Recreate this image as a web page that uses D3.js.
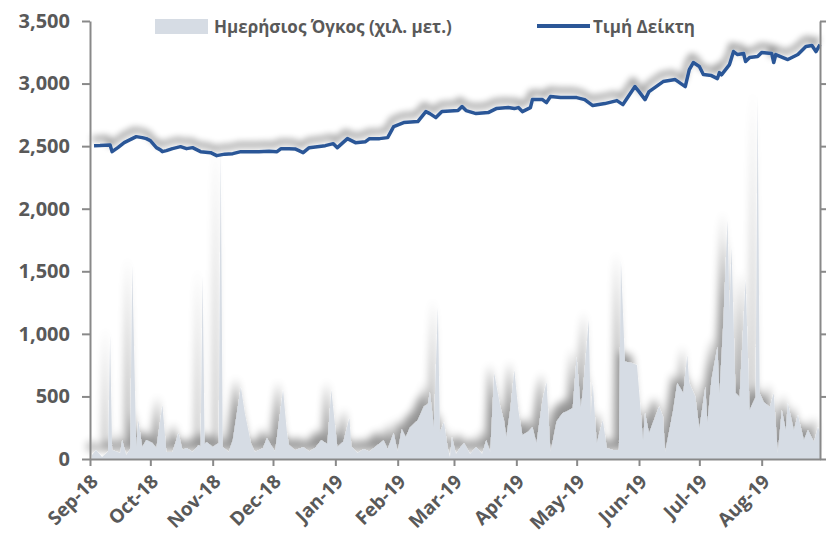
<!DOCTYPE html>
<html>
<head>
<meta charset="utf-8">
<script src="https://cdn.jsdelivr.net/npm/d3@7"></script>
<style>
  body { margin: 0; background: #fff; }
  svg text { font-family: "Open Sans", "Noto Sans", sans-serif; font-weight: bold; fill: #595959; }
  .axis path, .axis line { stroke: #898989; stroke-width: 2; }
</style>
</head>
<body>
<svg id="chart" width="827" height="539"></svg>
<script>
// Daily volume (thousand shares)
const volDates = [
  "2018-09-02","2018-09-04","2018-09-07","2018-09-10","2018-09-11","2018-09-12","2018-09-16","2018-09-17","2018-09-19","2018-09-21",
  "2018-09-22","2018-09-24","2018-09-25","2018-09-27","2018-09-29","2018-10-02","2018-10-04","2018-10-07","2018-10-09","2018-10-12",
  "2018-10-15","2018-10-17","2018-10-19","2018-10-22","2018-10-25","2018-10-26","2018-10-27","2018-10-28","2018-10-29","2018-11-01",
  "2018-11-04","2018-11-05","2018-11-06","2018-11-09","2018-11-11","2018-11-15","2018-11-17","2018-11-20","2018-11-22","2018-11-26",
  "2018-11-28","2018-11-30","2018-12-02","2018-12-06","2018-12-08","2018-12-09","2018-12-12","2018-12-16","2018-12-19","2018-12-22",
  "2018-12-25","2018-12-28","2018-12-30","2019-01-02","2019-01-05","2019-01-08","2019-01-09","2019-01-12","2019-01-15","2019-01-18",
  "2019-01-21","2019-01-25","2019-01-27","2019-01-30","2019-02-01","2019-02-03","2019-02-05","2019-02-07","2019-02-11","2019-02-14",
  "2019-02-16","2019-02-17","2019-02-19","2019-02-21","2019-02-22","2019-02-24","2019-02-26","2019-02-27","2019-02-28","2019-03-02",
  "2019-03-04","2019-03-06","2019-03-09","2019-03-12","2019-03-15","2019-03-17","2019-03-19","2019-03-21","2019-03-24","2019-03-26",
  "2019-03-27","2019-03-29","2019-03-31","2019-04-02","2019-04-04","2019-04-07","2019-04-09","2019-04-11","2019-04-14","2019-04-16",
  "2019-04-18","2019-04-21","2019-04-24","2019-04-26","2019-04-29","2019-05-01","2019-05-03","2019-05-04","2019-05-07","2019-05-08",
  "2019-05-09","2019-05-11","2019-05-14","2019-05-16","2019-05-19","2019-05-22","2019-05-23","2019-05-25","2019-05-28","2019-05-31",
  "2019-06-03","2019-06-04","2019-06-06","2019-06-09","2019-06-11","2019-06-13","2019-06-14","2019-06-18","2019-06-20","2019-06-23",
  "2019-06-25","2019-06-26","2019-06-29","2019-07-01","2019-07-04","2019-07-05","2019-07-07","2019-07-10","2019-07-11","2019-07-13",
  "2019-07-15","2019-07-16","2019-07-17","2019-07-19","2019-07-21","2019-07-24","2019-07-26","2019-07-29","2019-07-30","2019-07-31",
  "2019-08-02","2019-08-05","2019-08-07","2019-08-09","2019-08-11","2019-08-13","2019-08-14","2019-08-17","2019-08-19","2019-08-22",
  "2019-08-24","2019-08-27","2019-08-29","2019-08-30"
];
const volValues = [
  32, 72, 16, 60, 992, 72, 48, 152, 32, 80,
  1552, 96, 312, 96, 152, 128, 88, 432, 56, 56,
  208, 72, 88, 56, 112, 100, 1472, 120, 136, 96,
  128, 2500, 96, 56, 152, 576, 368, 128, 56, 88,
  168, 112, 60, 552, 200, 112, 70, 96, 60, 90,
  152, 120, 552, 96, 140, 328, 100, 48, 80, 60,
  100, 150, 80, 208, 60, 240, 176, 250, 312, 420,
  440, 536, 256, 1216, 216, 296, 80, 16, 176, 40,
  90, 128, 40, 96, 40, 152, 56, 688, 420, 300,
  176, 400, 712, 392, 192, 220, 256, 128, 472, 616,
  56, 300, 368, 380, 408, 816, 416, 528, 1112, 336,
  608, 128, 312, 88, 72, 72, 1592, 780, 770, 752,
  152, 368, 208, 336, 420, 336, 56, 392, 608, 528,
  832, 608, 500, 248, 576, 296, 632, 896, 528, 1112,
  1912, 1168, 1696, 528, 496, 1432, 392, 496, 2912, 528,
  456, 416, 528, 48, 392, 232, 448, 232, 352, 152,
  232, 136, 256, 208
];

// Index level
const idxDates = [
  "2018-09-03","2018-09-06","2018-09-11","2018-09-12","2018-09-15","2018-09-18","2018-09-22","2018-09-24","2018-09-27","2018-09-29",
  "2018-10-01","2018-10-04","2018-10-06","2018-10-07","2018-10-09","2018-10-12","2018-10-16","2018-10-19","2018-10-22","2018-10-26",
  "2018-10-31","2018-11-03","2018-11-07","2018-11-11","2018-11-15","2018-11-20","2018-11-24","2018-11-29","2018-12-03","2018-12-05",
  "2018-12-09","2018-12-12","2018-12-16","2018-12-19","2018-12-23","2018-12-27","2018-12-31","2019-01-02","2019-01-07","2019-01-11",
  "2019-01-16","2019-01-18","2019-01-23","2019-01-27","2019-01-30","2019-02-04","2019-02-11","2019-02-15","2019-02-17","2019-02-20",
  "2019-02-23","2019-03-03","2019-03-05","2019-03-07","2019-03-12","2019-03-18","2019-03-22","2019-03-28","2019-03-31","2019-04-02",
  "2019-04-04","2019-04-08","2019-04-09","2019-04-14","2019-04-16","2019-04-18","2019-04-23","2019-05-01","2019-05-05","2019-05-09",
  "2019-05-15","2019-05-21","2019-05-24","2019-05-28","2019-05-30","2019-06-01","2019-06-04","2019-06-06","2019-06-13","2019-06-19",
  "2019-06-24","2019-06-26","2019-06-28","2019-07-01","2019-07-03","2019-07-07","2019-07-10","2019-07-11","2019-07-12","2019-07-16",
  "2019-07-18","2019-07-20","2019-07-23","2019-07-24","2019-07-26","2019-07-30","2019-08-01","2019-08-06","2019-08-07","2019-08-08",
  "2019-08-14","2019-08-19","2019-08-23","2019-08-26","2019-08-28","2019-08-30"
];
const idxValues = [
  2504, 2505, 2510, 2456, 2490, 2528, 2560, 2576, 2568, 2560,
  2544, 2488, 2470, 2456, 2464, 2480, 2496, 2480, 2488, 2456,
  2448, 2424, 2436, 2440, 2456, 2456, 2456, 2460, 2456, 2480,
  2480, 2478, 2448, 2488, 2496, 2504, 2520, 2488, 2560, 2528,
  2536, 2560, 2560, 2568, 2656, 2688, 2696, 2776, 2760, 2728,
  2776, 2784, 2816, 2784, 2760, 2768, 2800, 2808, 2800, 2808,
  2776, 2808, 2872, 2872, 2848, 2896, 2888, 2888, 2872, 2824,
  2840, 2864, 2832, 2928, 2976, 2936, 2872, 2936, 3016, 3032,
  2976, 3112, 3168, 3136, 3072, 3064, 3040, 3088, 3070, 3152,
  3256, 3232, 3240, 3176, 3208, 3216, 3248, 3240, 3168, 3232,
  3192, 3232, 3296, 3304, 3256, 3312
];

const yTicks = [0, 500, 1000, 1500, 2000, 2500, 3000, 3500];
const monthTicks = ["2018-09-01","2018-10-01","2018-11-01","2018-12-01","2019-01-01","2019-02-01",
                    "2019-03-01","2019-04-01","2019-05-01","2019-06-01","2019-07-01","2019-08-01"];
const legendLabels = ["Ημερήσιος Όγκος (χιλ. μετ.)", "Τιμή Δείκτη"];

const svg = d3.select("#chart");
const parse = d3.timeParse("%Y-%m-%d");
const plot = { left: 90, right: 820, top: 21, bottom: 459 };

const x = d3.scaleTime()
    .domain([parse("2018-09-01"), parse("2019-08-30")])
    .range([plot.left, plot.right]);
const y = d3.scaleLinear().domain([0, 3500]).range([plot.bottom, plot.top]);

const vol = volDates.map((d, i) => ({ date: parse(d), v: volValues[i] }));
const idx = idxDates.map((d, i) => ({ date: parse(d), v: idxValues[i] }));

// soft shadows, up and to the left
const defs = svg.append("defs");
const areaShadow = defs.append("filter").attr("id", "areaShadow")
    .attr("x", "-10%").attr("y", "-20%").attr("width", "120%").attr("height", "140%");
areaShadow.append("feGaussianBlur").attr("in", "SourceAlpha").attr("stdDeviation", 4.5).attr("result", "b");
areaShadow.append("feOffset").attr("in", "b").attr("dx", -5).attr("dy", -9).attr("result", "o");
areaShadow.append("feComponentTransfer").attr("in", "o").attr("result", "s")
    .append("feFuncA").attr("type", "linear").attr("slope", 0.42);
const m1 = areaShadow.append("feMerge");
m1.append("feMergeNode").attr("in", "s");
m1.append("feMergeNode").attr("in", "SourceGraphic");

const lineShadow = defs.append("filter").attr("id", "lineShadow")
    .attr("x", "-5%").attr("y", "-50%").attr("width", "110%").attr("height", "200%");
lineShadow.append("feGaussianBlur").attr("in", "SourceAlpha").attr("stdDeviation", 3.5).attr("result", "b");
lineShadow.append("feOffset").attr("in", "b").attr("dx", -2).attr("dy", -7).attr("result", "o");
lineShadow.append("feComponentTransfer").attr("in", "o").attr("result", "s")
    .append("feFuncA").attr("type", "linear").attr("slope", 0.55);
const m2 = lineShadow.append("feMerge");
m2.append("feMergeNode").attr("in", "s");
m2.append("feMergeNode").attr("in", "SourceGraphic");

// volume area
svg.append("path")
    .datum(vol)
    .attr("fill", "#d6dce4")
    .attr("filter", "url(#areaShadow)")
    .attr("d", d3.area().x(d => x(d.date)).y0(y(0)).y1(d => y(d.v)));

// index line
svg.append("path")
    .datum(idx)
    .attr("fill", "none")
    .attr("stroke", "#2b5797")
    .attr("stroke-width", 3.5)
    .attr("stroke-linejoin", "round")
    .attr("filter", "url(#lineShadow)")
    .attr("d", d3.line().x(d => x(d.date)).y(d => y(d.v)));

// axes
svg.append("g").attr("class", "axis")
    .attr("transform", `translate(${plot.left},0)`)
    .call(d3.axisLeft(y).tickValues(yTicks).tickFormat(d3.format(",")).tickSize(8).tickSizeOuter(0).tickPadding(12))
    .selectAll("text").style("font-size", "20px");

svg.append("g").attr("class", "axis")
    .attr("transform", `translate(${plot.right},0)`)
    .call(d3.axisRight(y).tickValues(yTicks).tickFormat("").tickSize(6).tickSizeOuter(0));

const xAxis = svg.append("g").attr("class", "axis")
    .attr("transform", `translate(0,${plot.bottom})`)
    .call(d3.axisBottom(x).tickValues(monthTicks.map(parse)).tickFormat(d3.timeFormat("%b-%y")).tickSize(7).tickSizeOuter(0));
xAxis.selectAll("text")
    .style("font-size", "19px")
    .attr("text-anchor", "end")
    .attr("y", 0)
    .attr("dy", "0.35em")
    .attr("transform", "translate(4,19) rotate(-45)");

// legend
const leg = svg.append("g");
leg.append("rect").attr("x", 155).attr("y", 19).attr("width", 53).attr("height", 15).attr("fill", "#d6dce4");
leg.append("text").attr("x", 214).attr("y", 33).style("font-size", "17px").text(legendLabels[0]);
leg.append("line").attr("x1", 537).attr("x2", 590).attr("y1", 26).attr("y2", 26)
    .attr("stroke", "#2b5797").attr("stroke-width", 4);
leg.append("text").attr("x", 593).attr("y", 33).style("font-size", "17px").text(legendLabels[1]);
</script>
</body>
</html>
